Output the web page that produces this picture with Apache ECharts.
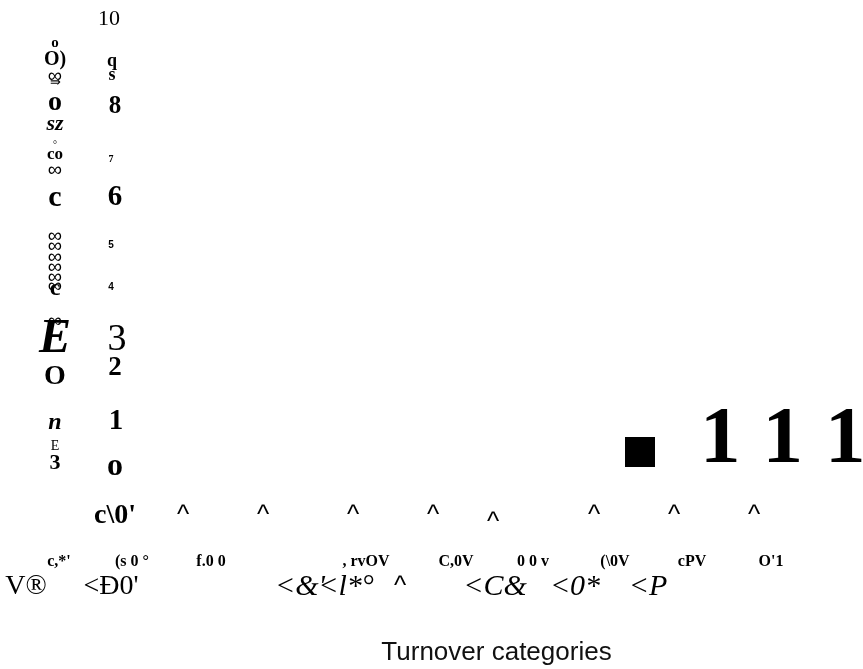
<!DOCTYPE html>
<html>
<head>
<meta charset="utf-8">
<script src="https://cdn.jsdelivr.net/npm/echarts@6/dist/echarts.min.js"></script>
<style>
  html, body { margin: 0; padding: 0; background: #ffffff; }
  #chart { width: 863px; height: 669px; }
</style>
</head>
<body>
<div id="chart"></div>
<script>
// ---- data ----
const categories = ["c,*'", "(s 0 °", "f.0 0", "", ", rvOV", "C,0V", "0 0 v", "(\\0V", "cPV", "O'1"];
const upperTags = ["", "c\\0'", "^", "^", "^", "^", "^", "^", "^", "^"];
const lowerTags = ["V®", "<Ð0'", "", "<&'", "<l*°", "^", "<C&", "<0*", "<P", ""];
const seriesName = "111";
const turnoverValues = [0, 0, 0, 0, 0, 0, 0, 0, 0, 0];
const yTickLabels = ["o", "1", "2", "3", "4", "5", "6", "7", "8", "q\ns", "10"];
const yNameGlyphs = ["o", "O)", "∞", "⇛", "o", "sz", "°", "co", "∞", "c", "∞", "∞", "∞", "∞", "∞", "∞", "c", "∞", "E", "O", "n", "E", "3"];
const xTitle = "Turnover categories";

// ---- styling ----
const SERIF = "'Liberation Serif', 'Times New Roman', serif";
const SANS = "'Liberation Sans', Arial, sans-serif";

// padding that nudges a centred rich token by (dx, dy)
function nudge(dx, dy) {
  return [Math.max(0, 2 * dy), Math.max(0, -2 * dx), Math.max(0, -2 * dy), Math.max(0, 2 * dx)];
}

// per-tick look of the value axis labels
const yTickLook = [
  { fs: 32, w: 'bold', f: SERIF, dx: 2, dy: -3 },
  { fs: 29, w: 'bold', f: SERIF, dx: 3, dy: -3 },
  { fs: 27, w: 'bold', f: SERIF, dx: 2, dy: -12 },
  { fs: 38, w: 'normal', f: SERIF, dx: 4, dy: 5 },
  { fs: 10, w: 'bold', f: SANS, dx: -2, dy: -3 },
  { fs: 10, w: 'bold', f: SANS, dx: -2, dy: 0 },
  { fs: 29, w: 'bold', f: SERIF, dx: 2, dy: -2 },
  { fs: 10, w: 'bold', f: SERIF, dx: -2, dy: 5 },
  { fs: 25, w: 'bold', f: SERIF, dx: 2, dy: -3 },
  { fs: 18, w: 'bold', f: SERIF, dx: -1, dy: 4, lh: 14 },
  { fs: 22, w: 'normal', f: SERIF, dx: -4, dy: 0 }
];
const yTickRich = {};
yTickLook.forEach((s, i) => {
  yTickRich['t' + i] = {
    fontSize: s.fs, fontWeight: s.w, fontFamily: s.f, color: '#000',
    lineHeight: s.lh || s.fs, padding: nudge(s.dx, s.dy)
  };
});

// stacked glyph column used as the value-axis title
const LOOP = { fs: 20, w: 'normal', s: 'normal', f: SANS };
const yNameLook = [
  { fs: 15, w: 'bold', s: 'normal', f: SERIF, lh: 14 },
  { fs: 20, w: 'bold', s: 'normal', f: SERIF, lh: 17 },
  Object.assign({}, LOOP, { lh: 9 }),
  { fs: 13, w: 'normal', s: 'normal', f: SANS, lh: 13.5 },
  { fs: 28, w: 'bold', s: 'normal', f: SERIF, lh: 24 },
  { fs: 22, w: 'bold', s: 'italic', f: SERIF, lh: 27 },
  { fs: 10, w: 'normal', s: 'normal', f: SERIF, lh: 6 },
  { fs: 17, w: 'bold', s: 'normal', f: SERIF, lh: 14.5 },
  Object.assign({}, LOOP, { lh: 22.5 }),
  { fs: 30, w: 'bold', s: 'normal', f: SERIF, lh: 43.5 },
  Object.assign({}, LOOP, { lh: 10 }),
  Object.assign({}, LOOP, { lh: 11 }),
  Object.assign({}, LOOP, { lh: 10 }),
  Object.assign({}, LOOP, { lh: 10 }),
  Object.assign({}, LOOP, { lh: 9 }),
  Object.assign({}, LOOP, { lh: 0.5 }),
  { fs: 24, w: 'bold', s: 'normal', f: SERIF, lh: 34.5 },
  Object.assign({}, LOOP, { lh: 4.5 }),
  { fs: 48, w: 'bold', s: 'italic', f: SERIF, lh: 47 },
  { fs: 28, w: 'bold', s: 'normal', f: SERIF, lh: 48 },
  { fs: 24, w: 'bold', s: 'italic', f: SERIF, lh: 28 },
  { fs: 14, w: 'normal', s: 'normal', f: SERIF, lh: 13 },
  { fs: 22, w: 'bold', s: 'normal', f: SERIF, lh: 2 }
];
const yNameRich = {};
yNameLook.forEach((s, i) => {
  yNameRich['n' + i] = {
    fontSize: s.fs, fontWeight: s.w, fontStyle: s.s, fontFamily: s.f,
    color: '#000', lineHeight: s.lh, verticalAlign: 'top', align: 'center'
  };
});
const yName = yNameGlyphs.map((g, i) => '{n' + i + '|' + g + '}').join('\n');

// per-category horizontal nudges of the three label rows
const rowAShift = [0, -23, -34, -33, -22, -21, -40, -18, -17, -16];
const rowADrop = [0, 0, 0, 0, 0, 0, 7, 0, 0, 0];
const rowBShift = [0, -6, -6, 0, -9, 2, 0, 3, 1, 1];
const rowCShift = [-33, -27, 0, 4, -29, -54, -38, -37, -43, 0];

function rowRich(prefix, shifts, drops, styleFor) {
  const rich = {};
  shifts.forEach((dx, i) => {
    rich[prefix + i] = Object.assign({ color: '#000', padding: nudge(dx, drops ? drops[i] : 0) }, styleFor(i));
  });
  return rich;
}

const rowARich = rowRich('a', rowAShift, rowADrop, i =>
  upperTags[i] === '^'
    ? { fontFamily: SANS, fontSize: 26, fontWeight: 'normal' }
    : { fontFamily: SERIF, fontSize: 28, fontWeight: 'bold' });
const rowBRich = rowRich('b', rowBShift, null, () =>
  ({ fontFamily: SERIF, fontSize: 16, fontWeight: 'bold' }));
const rowCRich = rowRich('c', rowCShift, null, i => {
  const t = lowerTags[i];
  if (t === '^') return { fontFamily: SANS, fontSize: 26, fontWeight: 'normal' };
  if (i < 2) return { fontFamily: SERIF, fontSize: 28, fontWeight: 'normal' };
  return { fontFamily: SERIF, fontSize: 30, fontStyle: 'italic' };
});

function labelFrom(texts, prefix) {
  return (value, index) => texts[index] ? '{' + prefix + index + '|' + texts[index] + '}' : '';
}

const hidden = { show: false };
function catAxis(texts, prefix, rich, margin, extra) {
  return Object.assign({
    type: 'category',
    data: categories,
    position: 'bottom',
    gridIndex: 0,
    boundaryGap: true,
    axisLine: hidden, axisTick: hidden, splitLine: hidden,
    axisLabel: {
      interval: 0, hideOverlap: false, margin: margin,
      align: 'center', verticalAlign: 'middle',
      formatter: labelFrom(texts, prefix), rich: rich
    }
  }, extra || {});
}

const chart = echarts.init(document.getElementById('chart'), null, { renderer: 'canvas' });
chart.setOption({
  backgroundColor: '#ffffff',
  animation: false,
  grid: { left: 19.5, right: 53.5, top: 19.5, bottom: 199, containLabel: false, outerBoundsMode: 'none' },
  legend: {
    data: [seriesName],
    left: 625, top: 401, padding: 0,
    icon: 'rect', itemWidth: 30, itemHeight: 30,
    selectedMode: false,
    itemStyle: { color: '#000' },
    formatter: name => name.split('').map((ch, i) => '{' + (i ? 'r' : 'f') + '|' + ch + '}').join(''),
    textStyle: {
      rich: {
        f: { fontSize: 81, fontWeight: 'bold', fontFamily: SERIF, color: '#000', padding: [0, 11, 21, 40] },
        r: { fontSize: 81, fontWeight: 'bold', fontFamily: SERIF, color: '#000', padding: [0, 11, 21, 11] }
      }
    }
  },
  xAxis: [
    catAxis(categories, 'b', rowBRich, 92, {
      name: xTitle, nameLocation: 'middle', nameGap: 182.5, nameMoveOverlap: false,
      nameTextStyle: {
        fontFamily: SANS, fontSize: 26, color: '#111',
        verticalAlign: 'middle', padding: [0, 0, 0, 164]
      }
    }),
    catAxis(upperTags, 'a', rowARich, 46),
    catAxis(lowerTags, 'c', rowCRich, 117)
  ],
  yAxis: {
    type: 'value', min: 0, max: 10, interval: 1,
    offset: -110.5,
    axisLine: hidden, axisTick: hidden, splitLine: hidden,
    axisLabel: {
      margin: 17, align: 'center', verticalAlign: 'middle',
      formatter: value => {
        const i = Math.round(value);
        return yTickLabels[i].split('\n').map(s => '{t' + i + '|' + s + '}').join('\n');
      },
      rich: yTickRich
    },
    name: yName, nameLocation: 'middle', nameGap: 75, nameRotate: 0, nameMoveOverlap: false,
    nameTextStyle: { align: 'center', verticalAlign: 'middle', rich: yNameRich }
  },
  series: [{
    name: seriesName,
    type: 'bar',
    xAxisIndex: 0,
    data: turnoverValues,
    itemStyle: { color: '#000' },
    barWidth: 30
  }]
});
</script>
</body>
</html>
